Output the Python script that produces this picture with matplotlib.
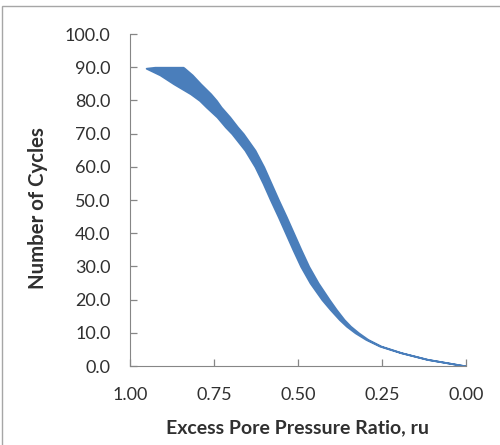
import matplotlib
matplotlib.use('Agg')
import matplotlib.pyplot as plt
from matplotlib.patches import Rectangle

# band of the ru-vs-cycles trace
cycles = [0, 2, 4, 6, 8, 10, 12, 14, 17, 20, 25, 30, 35, 40, 45, 50, 55, 60,
          65, 70, 72, 75, 78, 80, 82, 85, 87.7, 89.7, 90]
ru_high = [0.000, 0.116, 0.194, 0.257, 0.298, 0.330, 0.356, 0.377, 0.404,
           0.429, 0.464, 0.492, 0.515, 0.537, 0.559, 0.582, 0.604, 0.628,
           0.658, 0.697, 0.716, 0.741, 0.773, 0.793, 0.820, 0.870, 0.911,
           0.952, 0.926]
ru_low = [0.000, 0.114, 0.192, 0.253, 0.292, 0.320, 0.344, 0.363, 0.386,
          0.407, 0.440, 0.468, 0.491, 0.513, 0.535, 0.558, 0.580, 0.602,
          0.628, 0.663, 0.680, 0.703, 0.729, 0.743, 0.760, 0.790, 0.815,
          0.838, 0.842]

x_ticks = [1.00, 0.75, 0.50, 0.25, 0.00]
y_ticks = [0, 10, 20, 30, 40, 50, 60, 70, 80, 90, 100]

blue = '#4a7ebb'
grey = '#868686'
txt = '#303030'
plt.rcParams['font.family'] = ['Lato', 'DejaVu Sans']

fig = plt.figure(figsize=(5, 4.45), dpi=100)
ax = fig.add_axes([0.26, 0.1775, 0.672, 0.746])

ax.fill_betweenx(cycles, ru_low, ru_high, color=blue, edgecolor=blue, linewidth=1.3)

ax.set_xlim(1.0, 0.0)
ax.set_ylim(0, 100)
ax.set_xticks(x_ticks)
ax.set_xticklabels(['%.2f' % v for v in x_ticks])
ax.set_yticks(y_ticks)
ax.set_yticklabels(['%.1f' % v for v in y_ticks])

ax.spines['right'].set_visible(False)
ax.spines['top'].set_visible(False)
ax.spines['left'].set_color(grey)
ax.spines['bottom'].set_color(grey)
ax.tick_params(direction='in', length=5, width=0.9, color=grey,
               labelsize=13, labelcolor=txt)
ax.tick_params(axis='y', pad=14)
ax.tick_params(axis='x', pad=15)

ax.set_xlabel('Excess Pore Pressure Ratio, ru', fontsize=14, fontweight='bold',
              color=txt, labelpad=12)
ax.set_ylabel('Number of Cycles', fontsize=14.7, fontweight='bold', color=txt)
ax.yaxis.set_label_coords(-0.245, 0.477)

# chart-area frame, partly cropped in the original
fig.patches.append(Rectangle((0.004, -0.1), 1.2, 1.0865, transform=fig.transFigure,
                             fill=False, edgecolor='#a6a6a6', linewidth=1))

fig.savefig('out.png', dpi=100)
